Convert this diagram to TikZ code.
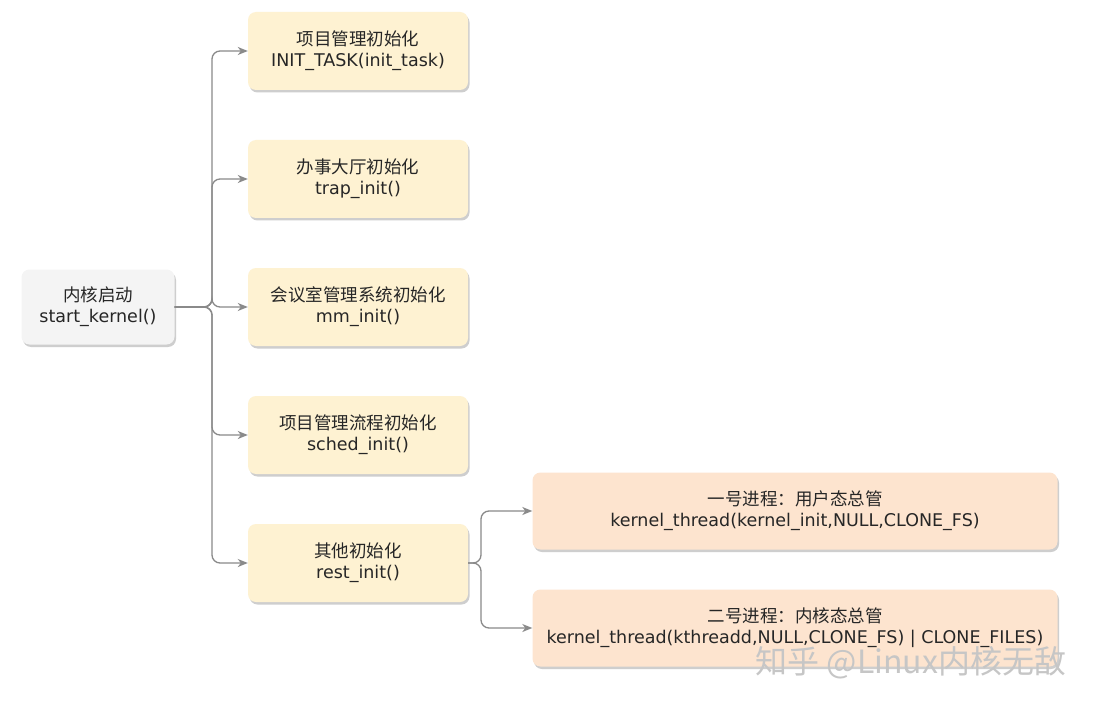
\documentclass[tikz,border=0pt]{standalone}
\usepackage{fontspec}
\setmainfont{DejaVu Sans}
\newfontfamily\cjk{Noto Sans CJK SC}
\usetikzlibrary{arrows.meta,shadows}
\definecolor{txt}{HTML}{262626}
\definecolor{line}{HTML}{8A8A8A}
\definecolor{yel}{HTML}{FEF2D2}
\definecolor{ora}{HTML}{FDE4CF}
\definecolor{gry}{HTML}{F4F4F4}
\definecolor{mark}{HTML}{C6C6C6}
\tikzset{
  box/.style={rounded corners=8pt, align=center, text=txt, inner sep=0pt,
    font=\fontsize{17.5}{21}\selectfont,
    drop shadow={shadow xshift=1.5pt, shadow yshift=-2.5pt, opacity=0.35, fill=black!55}},
  startbox/.style={box, fill=gry, minimum width=153pt, minimum height=75pt},
  yelbox/.style={box, fill=yel, minimum width=220pt, minimum height=78pt},
  orabox/.style={box, fill=ora, minimum width=525pt, minimum height=77pt},
  conn/.style={draw=line, line width=1.3pt, rounded corners=8pt,
    -{Stealth[length=10pt,width=8pt,inset=3pt]}},
}
\begin{document}
\begin{tikzpicture}[x=1pt,y=-1pt]
\fill[white] (0,0) rectangle (1119,714);
\useasboundingbox (0,0) rectangle (1119,714);

% root
\node[startbox] (start) at (98,307) {{\cjk 内核启动}\\start\_kernel()};

% first-level initialisation steps
\node[yelbox] (task)  at (358,51)  {{\cjk 项目管理初始化}\\INIT\_TASK(init\_task)};
\node[yelbox] (trap)  at (358,179) {{\cjk 办事大厅初始化}\\trap\_init()};
\node[yelbox] (mm)    at (358,307) {{\cjk 会议室管理系统初始化}\\mm\_init()};
\node[yelbox] (sched) at (358,435) {{\cjk 项目管理流程初始化}\\sched\_init()};
\node[yelbox] (rest)  at (358,563) {{\cjk 其他初始化}\\rest\_init()};

% kernel threads
\node[orabox] (one) at (795,511) {{\cjk 一号进程：用户态总管}\\kernel\_thread(kernel\_init,NULL,CLONE\_FS)};
\node[orabox] (two) at (795,628) {{\cjk 二号进程：内核态总管}\\kernel\_thread(kthreadd,NULL,CLONE\_FS) | CLONE\_FILES)};

% branch points
\coordinate (trunk) at (212,307);
\coordinate (fork) at (481,563);

\foreach \t in {task,trap,mm,sched,rest}
  \draw[conn] (start.east) -- (trunk) |- (\t.west);
\foreach \t in {one,two}
  \draw[conn] (rest.east) -- (fork) |- (\t.west);

% watermark
\node[text=mark, font=\cjk\fontsize{32}{34}\selectfont, inner sep=0pt] (wm) at (911,663) {知乎 @Linux内核无敌};
\end{tikzpicture}
\end{document}
